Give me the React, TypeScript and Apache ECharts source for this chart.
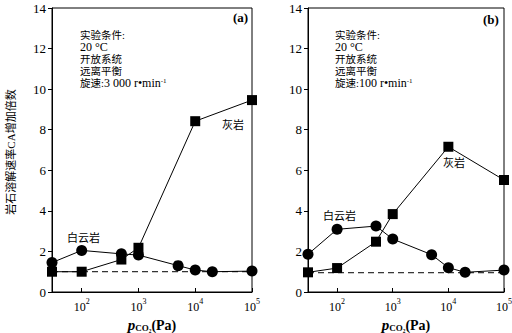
import React, { useEffect, useRef } from "react";
import * as echarts from "echarts";

const pressures = [30, 100, 500, 1000, 5000, 10000, 20000, 100000];
const limestoneP = [30, 100, 500, 1000, 10000, 100000];
const dolomiteA = [1.45, 2.05, 1.88, 1.82, 1.3, 1.08, 1.0, 1.03];
const limestoneA = [1.0, 1.0, 1.6, 2.18, 8.42, 9.46];
const dolomiteB = [1.86, 3.09, 3.25, 2.61, 1.84, 1.2, 0.97, 1.08];
const limestoneB = [0.97, 1.18, 2.48, 3.84, 7.16, 5.52];
const baselineA = 1.0;
const baselineB = 0.95;
const yTicks = [0, 2, 4, 6, 8, 10, 12, 14];
const conditionLines = ["实验条件:", "20 °C", "开放系统", "远离平衡"];
const speedA = "3 000";
const speedB = "100";

const SERIF = "'Liberation Serif','Times New Roman','Noto Sans CJK SC',serif";

function pairs(xs: number[], ys: number[]) {
  return xs.map((x, i) => [x, ys[i]]);
}

export default function App() {
  const ref = useRef<HTMLDivElement>(null);
  useEffect(() => {
    if (!ref.current) return;
    const chart = echarts.init(ref.current, null, { renderer: "svg" });
    const grids = [
      { left: 52, top: 8, width: 200, height: 284 },
      { left: 308, top: 8, width: 196, height: 284 },
    ];
    const xAxisBase = (gi: number) => ({
      type: "log" as const,
      gridIndex: gi,
      min: 30,
      max: 100000,
      logBase: 10,
      axisLine: { lineStyle: { color: "#000", width: 1 } },
      axisTick: { inside: true, length: 4, lineStyle: { color: "#000" } },
      minorTick: { show: false },
      splitLine: { show: false },
      axisLabel: {
        color: "#000",
        fontFamily: SERIF,
        fontSize: 12,
        margin: 5,
        showMinLabel: false,
        formatter: (v: number) => {
          const e = Math.log10(v);
          if (Math.abs(e - Math.round(e)) < 1e-6) return `{b|10}{s|${Math.round(e)}}`;
          return "";
        },
        rich: {
          b: { fontFamily: SERIF, fontSize: 12, color: "#000", lineHeight: 16, verticalAlign: "bottom" },
          s: { fontFamily: SERIF, fontSize: 8, color: "#000", lineHeight: 16, verticalAlign: "top", padding: [0, 0, 6, 0] },
        },
      },
      name: "{p|p}{s|CO₂}{n|(Pa)}",
      nameLocation: "middle" as const,
      nameGap: 21,
      nameTextStyle: {
        rich: {
          p: { fontFamily: SERIF, fontSize: 15, fontStyle: "italic", fontWeight: "bold", color: "#000", verticalAlign: "bottom", lineHeight: 18 },
          s: { fontFamily: SERIF, fontSize: 9, fontWeight: "bold", color: "#000", verticalAlign: "bottom", lineHeight: 14 },
          n: { fontFamily: SERIF, fontSize: 14, fontWeight: "bold", color: "#000", verticalAlign: "bottom", lineHeight: 18 },
        },
      },
    });
    const yAxisBase = (gi: number) => ({
      type: "value" as const,
      gridIndex: gi,
      min: yTicks[0],
      max: yTicks[yTicks.length - 1],
      interval: 2,
      axisLine: { show: true, lineStyle: { color: "#000", width: 1 } },
      axisTick: { show: true, inside: false, length: 4, lineStyle: { color: "#000" } },
      splitLine: { show: false },
      axisLabel: { color: "#000", fontFamily: SERIF, fontSize: 13, margin: 6 },
    });
    const lineSeries = (gi: number, data: number[][], symbol: string, size: number) => ({
      type: "line" as const,
      xAxisIndex: gi,
      yAxisIndex: gi,
      data,
      symbol,
      symbolSize: size,
      showSymbol: true,
      lineStyle: { color: "#000", width: 1 },
      itemStyle: { color: "#000", borderWidth: 0 },
      z: 3,
    });
    const dashSeries = (gi: number, y: number) => ({
      type: "line" as const,
      xAxisIndex: gi,
      yAxisIndex: gi,
      data: [[30, y], [100000, y]],
      symbol: "none",
      lineStyle: { color: "#000", width: 1, type: [6, 4] },
      z: 2,
    });
    const condTexts = (x: number, speed: string) => {
      const items: any[] = conditionLines.map((t, i) => ({
        type: "text",
        x,
        y: 35 + i * 12,
        z: 10,
        style: {
          text: t,
          fontFamily: SERIF,
          fontSize: i === 1 ? 12 : 10.5,
          lineHeight: 11,
          fill: "#000",
          align: "left",
          verticalAlign: "middle",
        },
      }));
      items.push({
        type: "text",
        x,
        y: 83,
        z: 10,
        style: {
          text: `{c|旋速:}{n|${speed} r•min}{s|-1}`,
          align: "left",
          verticalAlign: "middle",
          rich: {
            c: { fontFamily: SERIF, fontSize: 10.5, lineHeight: 11, fill: "#000", verticalAlign: "bottom" },
            n: { fontFamily: SERIF, fontSize: 12, lineHeight: 11, fill: "#000", verticalAlign: "bottom" },
            s: { fontFamily: SERIF, fontSize: 7, lineHeight: 11, fill: "#000", verticalAlign: "top" },
          },
        },
      });
      return items;
    };
    const label = (x: number, y: number, text: string) => ({
      type: "text" as const,
      x,
      y,
      z: 10,
      style: { text, fontFamily: SERIF, fontSize: 11, fill: "#000", align: "left", verticalAlign: "middle" },
    });
    chart.setOption({
      animation: false,
      backgroundColor: "#fff",
      grid: grids.map((g) => ({
        ...g,
        show: true,
        borderColor: "#000",
        borderWidth: 1,
        backgroundColor: "transparent",
        containLabel: false,
        outerBoundsMode: "none",
      })),
      xAxis: [xAxisBase(0), xAxisBase(1)],
      yAxis: [yAxisBase(0), yAxisBase(1)],
      series: [
        dashSeries(0, baselineA),
        lineSeries(0, pairs(pressures, dolomiteA), "circle", 11),
        lineSeries(0, pairs(limestoneP, limestoneA), "rect", 10),
        dashSeries(1, baselineB),
        lineSeries(1, pairs(pressures, dolomiteB), "circle", 11),
        lineSeries(1, pairs(limestoneP, limestoneB), "rect", 10),
      ],
      graphic: [
        {
          type: "text",
          x: 11,
          y: 152,
          rotation: Math.PI / 2,
          style: {
            text: "岩石溶解速率CA增加倍数",
            fontFamily: SERIF,
            fontSize: 11,
            fill: "#000",
            align: "center",
            verticalAlign: "middle",
          },
        },
        ...condTexts(80, speedA),
        ...condTexts(335, speedB),
        { type: "text", x: 233, y: 17, style: { text: "(a)", fontFamily: SERIF, fontSize: 13, fontWeight: "bold", fill: "#000", align: "left", verticalAlign: "middle" } },
        { type: "text", x: 483, y: 19, style: { text: "(b)", fontFamily: SERIF, fontSize: 13, fontWeight: "bold", fill: "#000", align: "left", verticalAlign: "middle" } },
        label(222, 125, "灰岩"),
        label(67, 238, "白云岩"),
        label(443, 163, "灰岩"),
        label(323, 216, "白云岩"),
      ],
    });
    return () => chart.dispose();
  }, []);
  return <div ref={ref} style={{ position: "fixed", left: 0, top: 0, width: 512, height: 333 }} />;
}
